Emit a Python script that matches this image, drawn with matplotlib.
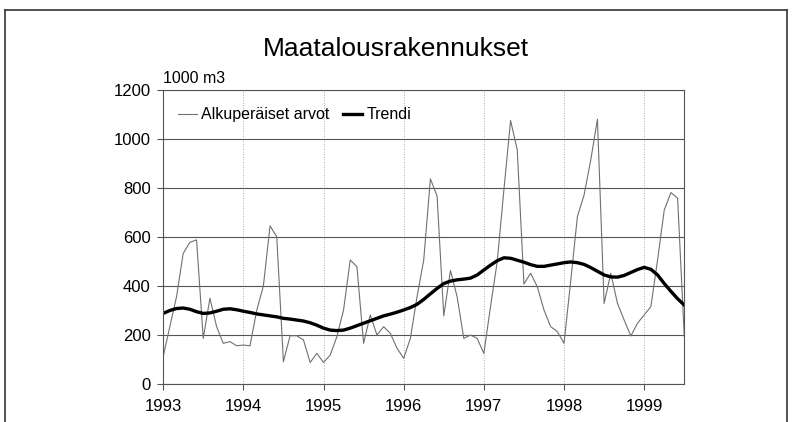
import matplotlib.pyplot as plt
import numpy as np

# Monthly values, Jan 1993 .. Jul 1999 (1000 m3)
original = [112, 234, 356, 533, 578, 588, 186, 350, 234, 166, 173, 156,
            159, 156, 300, 400, 645, 601, 91, 197, 197, 180, 88, 125,
            88, 118, 193, 302, 506, 479, 166, 282, 200, 234, 207, 146,
            105, 186, 356, 506, 837, 767, 278, 463, 356, 186, 200, 186,
            125, 316, 499, 792, 1075, 955, 408, 452, 397, 302, 234, 214,
            166, 420, 683, 771, 914, 1080, 329, 452, 329, 261, 196, 248,
            282, 316, 506, 710, 781, 758, 193]
trend = [288, 300, 308, 310, 305, 295, 288, 290, 297, 305, 307, 303,
         297, 292, 286, 282, 278, 274, 268, 265, 261, 257, 250, 240,
         228, 220, 218, 220, 228, 238, 248, 258, 268, 278, 285, 293,
         302, 312, 325, 345, 368, 390, 410, 420, 425, 428, 432, 445,
         465, 485, 503, 515, 513, 505, 497, 487, 480, 480, 485, 490,
         495, 498, 495, 488, 475, 460, 445, 437, 436, 443, 455, 467,
         476, 468, 445, 410, 378, 348, 322]
years = [1993, 1994, 1995, 1996, 1997, 1998, 1999]

font = ['Liberation Sans Narrow', 'Liberation Sans', 'DejaVu Sans']
plt.rcParams['font.family'] = font

months = np.arange(len(original))

fig = plt.figure(figsize=(7.92, 4.22), dpi=100)
ax = fig.add_axes([0.206, 0.09, 0.658, 0.697])

ax.plot(months, original, color='#707070', lw=0.8, label='Alkuperäiset arvot')
ax.plot(months, trend, color='black', lw=2.4, label='Trendi')

ax.set_xlim(0, len(original) - 1)
ax.set_ylim(0, 1200)
ax.set_yticks(range(0, 1201, 200))
ax.set_xticks([(y - 1993) * 12 for y in years])
ax.set_xticklabels([str(y) for y in years])
ax.tick_params(labelsize=12, length=4, color='#555555')
ax.tick_params(axis='x', pad=7)
ax.tick_params(axis='y', pad=5)

ax.grid(axis='y', color='#555555', lw=0.8)
ax.grid(axis='x', color='#aaaaaa', lw=0.7, ls=':')
ax.set_axisbelow(True)
for s in ax.spines.values():
    s.set_color('#555555')

ax.legend(loc='upper left', ncol=2, frameon=False, fontsize=11.5,
          handlelength=1.2, handletextpad=0.3, columnspacing=0.8,
          bbox_to_anchor=(0.0, 0.99))

fig.text(0.5, 0.885, 'Maatalousrakennukset', ha='center', va='center', fontsize=19)
fig.text(0.206, 0.815, '1000 m3', ha='left', va='center', fontsize=11.5)

# outer frame
for xs, ys in [([0.006, 0.994], [0.976, 0.976]), ([0.006, 0.006], [0.976, 0]),
               ([0.994, 0.994], [0.976, 0])]:
    fig.add_artist(plt.Line2D(xs, ys, color='#333333', lw=1.2))

fig.savefig('out.png', dpi=100)
